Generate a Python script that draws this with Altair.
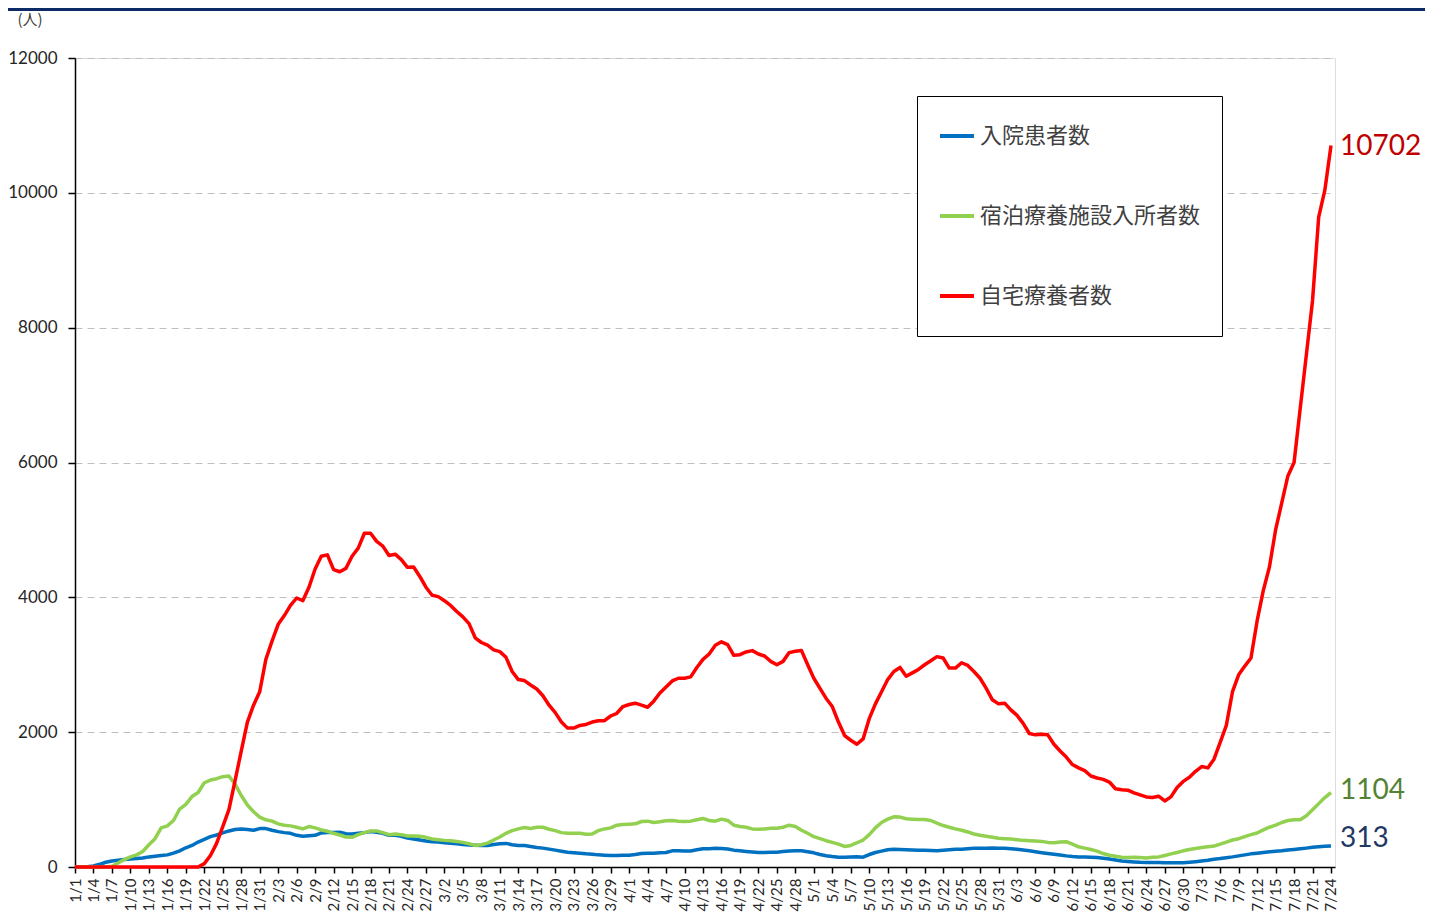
import datetime as dt
import altair as alt
import pandas as pd

# ---- categories (days 1/1 .. 7/24) ----
start = dt.date(2022, 1, 1)
N_DAYS = 205
day_index = list(range(N_DAYS))
date_labels = [f"{(start + dt.timedelta(days=i)).month}/{(start + dt.timedelta(days=i)).day}" for i in day_index]
tick_days = list(range(0, N_DAYS, 3))
tick_labels = [date_labels[i] for i in tick_days]

series_names = ["入院患者数", "宿泊療養施設入所者数", "自宅療養者数"]
series_colors = ["#0070C0", "#92D050", "#FF0000"]

# 入院患者数
hospital = [
    0, 0, 5, 15, 40, 70, 90, 100, 110, 120,
    125, 135, 150, 160, 170, 180, 205, 240, 285, 320,
    370, 410, 450, 475, 505, 535, 555, 565, 555, 545,
    570, 570, 545, 525, 510, 500, 470, 455, 465, 470,
    505, 510, 510, 515, 495, 490, 500, 510, 525, 515,
    500, 470, 470, 455, 430, 415, 400, 385, 375, 370,
    360, 352, 345, 335, 326, 322, 320, 320, 335, 345,
    350, 330, 320, 318, 305, 290, 280, 265, 250, 235,
    220, 212, 205, 195, 190, 180, 175, 172, 172, 173,
    175, 185, 200, 205, 205, 210, 215, 240, 240, 238,
    237, 255, 270, 272, 277, 275, 268, 250, 240, 230,
    222, 215, 215, 217, 220, 230, 237, 240, 240, 225,
    210, 185, 168, 155, 145, 143, 150, 152, 145, 185,
    215, 235, 255, 262, 258, 255, 252, 250, 248, 245,
    242, 248, 255, 262, 265, 272, 277, 278, 278, 280,
    278, 277, 270, 262, 252, 240, 225, 212, 200, 188,
    178, 165, 155, 150, 148, 145, 140, 130, 118, 105,
    90, 82, 75, 70, 68, 65, 65, 64, 62, 63,
    64, 70, 78, 88, 100, 115, 125, 138, 150, 165,
    180, 195, 205, 215, 225, 232, 240, 252, 260, 270,
    280, 292, 300, 308, 313,
]

# 宿泊療養施設入所者数
hotel = [
    0, 0, 0, 0, 0, 0, 10, 60, 110, 150,
    180, 230, 330, 420, 580, 610, 690, 860, 930, 1045,
    1105, 1250, 1290, 1310, 1340, 1350, 1230, 1060, 920, 820,
    740, 700, 680, 640, 620, 610, 590, 565, 600, 580,
    550, 530, 500, 475, 445, 440, 480, 510, 535, 535,
    510, 480, 490, 480, 460, 460, 455, 440, 415, 405,
    395, 388, 380, 365, 345, 320, 330, 355, 400, 445,
    500, 540, 565, 585, 570, 590, 590, 560, 540, 510,
    500, 500, 500, 485, 490, 540, 565, 580, 620, 630,
    635, 640, 675, 680, 660, 670, 685, 690, 680, 675,
    680, 700, 720, 690, 680, 710, 690, 620, 600, 590,
    565, 560, 565, 575, 575, 590, 620, 600, 545, 500,
    450, 420, 390, 365, 340, 305, 320, 360, 400, 480,
    580, 660, 710, 745, 740, 715, 710, 705, 705, 690,
    650, 615, 590, 565, 545, 520, 490, 470, 455, 440,
    425, 420, 415, 405, 395, 390, 385, 380, 365, 360,
    370, 375, 340, 300, 280, 260, 235, 200, 175, 160,
    145, 140, 145, 140, 135, 145, 150, 170, 195, 215,
    240, 260, 275, 290, 300, 310, 340, 370, 400, 420,
    450, 480, 505, 550, 590, 620, 660, 690, 700, 700,
    760, 850, 940, 1030, 1104,
]

# 自宅療養者数
home = [
    0, 0, 0, 0, 0, 0, 0, 0, 0, 0,
    0, 0, 0, 0, 0, 0, 0, 0, 0, 0,
    0, 50, 170, 350, 600, 850, 1280, 1720, 2150, 2400,
    2600, 3080, 3350, 3600, 3730, 3880, 3990, 3950, 4150, 4420,
    4610, 4630, 4410, 4380, 4430, 4610, 4730, 4950, 4950, 4830,
    4760, 4620, 4640, 4560, 4445, 4450, 4310, 4150, 4030, 4010,
    3950, 3880, 3790, 3710, 3610, 3400, 3330, 3290, 3220, 3195,
    3110, 2900, 2780, 2765, 2700, 2640, 2540, 2400, 2290, 2150,
    2060, 2060, 2100, 2115, 2150, 2170, 2170, 2240, 2280, 2380,
    2410, 2430, 2400, 2370, 2460, 2580, 2670, 2760, 2800, 2800,
    2820, 2960, 3080, 3160, 3290, 3340, 3300, 3140, 3150, 3190,
    3210, 3160, 3130, 3050, 3000, 3050, 3180, 3200, 3210, 3000,
    2800, 2650, 2500, 2380, 2150, 1950, 1880, 1820, 1900, 2200,
    2420, 2600, 2780, 2900, 2960, 2830, 2880, 2930, 3000, 3060,
    3120, 3100, 2950, 2950, 3030, 2990, 2900, 2800, 2650, 2480,
    2420, 2430, 2330, 2250, 2130, 1980, 1960, 1970, 1960, 1820,
    1720, 1630, 1520, 1470, 1430, 1350, 1320, 1300, 1260, 1160,
    1145, 1140, 1100, 1070, 1040, 1030, 1050, 980, 1040, 1180,
    1270, 1330, 1420, 1490, 1470, 1600, 1850, 2100, 2600, 2850,
    2980, 3100, 3650, 4100, 4450, 5000, 5400, 5800, 6000, 6800,
    7600, 8400, 9640, 10040, 10702,
]

assert len(hospital) == N_DAYS and len(hotel) == N_DAYS and len(home) == N_DAYS

end_label_colors = ["#1F3864", "#548235", "#C00000"]

# ---- tables ----
all_series = [hospital, hotel, home]
df = pd.DataFrame({
    "day": day_index * 3,
    "value": hospital + hotel + home,
    "series": [n for n in series_names for _ in day_index],
})
last_df = pd.DataFrame({
    "day": [day_index[-1]] * 3,
    "value": [s[-1] for s in all_series],
    "label": [str(s[-1]) for s in all_series],
    "series": series_names,
    "tc": end_label_colors,
})

label_expr = "[" + ",".join(f"'{s}'" for s in tick_labels) + "][round(datum.value/3)]"

x_enc = alt.X(
    "day:Q",
    scale=alt.Scale(domain=[0, 204.65], nice=False, zero=False),
    axis=alt.Axis(
        values=tick_days, tickCount=300, labelExpr=label_expr, labelAngle=270,
        labelAlign="right", labelBaseline="middle", labelFlush=False,
        labelOverlap=False, labelBound=False, labelPadding=5,
        labelFont="Lato", labelFontSize=15, labelColor="#262626",
        grid=False, tickColor="black", tickSize=6, tickWidth=1.5,
        domainColor="black", domainWidth=1.5, title=None,
    ),
)
y_enc = alt.Y(
    "value:Q",
    scale=alt.Scale(domain=[0, 12000], nice=False),
    axis=alt.Axis(
        values=[0, 2000, 4000, 6000, 8000, 10000, 12000], format="d",
        labelFont="Lato", labelFontSize=17, labelColor="#262626",
        labelPadding=11, labelFlush=False,
        grid=True, gridDash=[7, 5], gridColor="#bfbfbf", gridWidth=1,
        tickColor="black", tickSize=7, tickWidth=1.5,
        domainColor="black", domainWidth=1.5,
        title="(人)", titleAngle=0, titleX=-58, titleY=-39,
        titleAlign="left", titleBaseline="middle",
        titleFont="Noto Sans CJK JP", titleFontSize=15,
        titleFontWeight="normal", titleColor="#404040",
    ),
)
color_enc = alt.Color(
    "series:N",
    scale=alt.Scale(domain=series_names, range=series_colors),
    legend=alt.Legend(
        orient="none", legendX=842, legendY=38, title=" ",
        titleOrient="bottom", titleFontSize=6, titlePadding=2,
        symbolType="stroke", symbolStrokeWidth=4, symbolSize=1156,
        labelFont="Noto Sans CJK JP", labelFontSize=22, labelColor="#404040",
        labelLimit=400, labelOffset=4, padding=21, rowPadding=50,
        strokeColor="black", fillColor="white",
    ),
)

base = alt.Chart(df).mark_line(strokeWidth=3.5, strokeJoin="round").encode(
    x=x_enc, y=y_enc, color=color_enc
)
lines = [base.transform_filter(alt.datum.series == n) for n in series_names]

end_layers = []
for n, dy in zip(series_names, [-7, -2, 1]):
    end_layers.append(
        alt.Chart(last_df).transform_filter(alt.datum.series == n)
        .mark_text(align="left", baseline="middle", dx=9, dy=dy, font="Lato", fontSize=28)
        .encode(x="day:Q", y="value:Q", text="label:N", color=alt.Color("tc:N", scale=None))
    )

band = alt.Chart(pd.DataFrame({"k": [0]})).mark_rule(color="#0B2A66", strokeWidth=3).encode(
    x=alt.value(-67), x2=alt.value(1350), y=alt.value(-48.5)
)

chart = alt.layer(*lines, *end_layers, band).properties(
    width=1260, height=809,
    padding={"left": 67, "top": 50, "right": 90, "bottom": 46},
    autosize=alt.AutoSizeParams(type="none"),
).configure_view(stroke="#bfbfbf", strokeWidth=1).configure(background="white", font="Lato")

chart.save("out.html", embed_options={"renderer": "svg", "actions": False})
